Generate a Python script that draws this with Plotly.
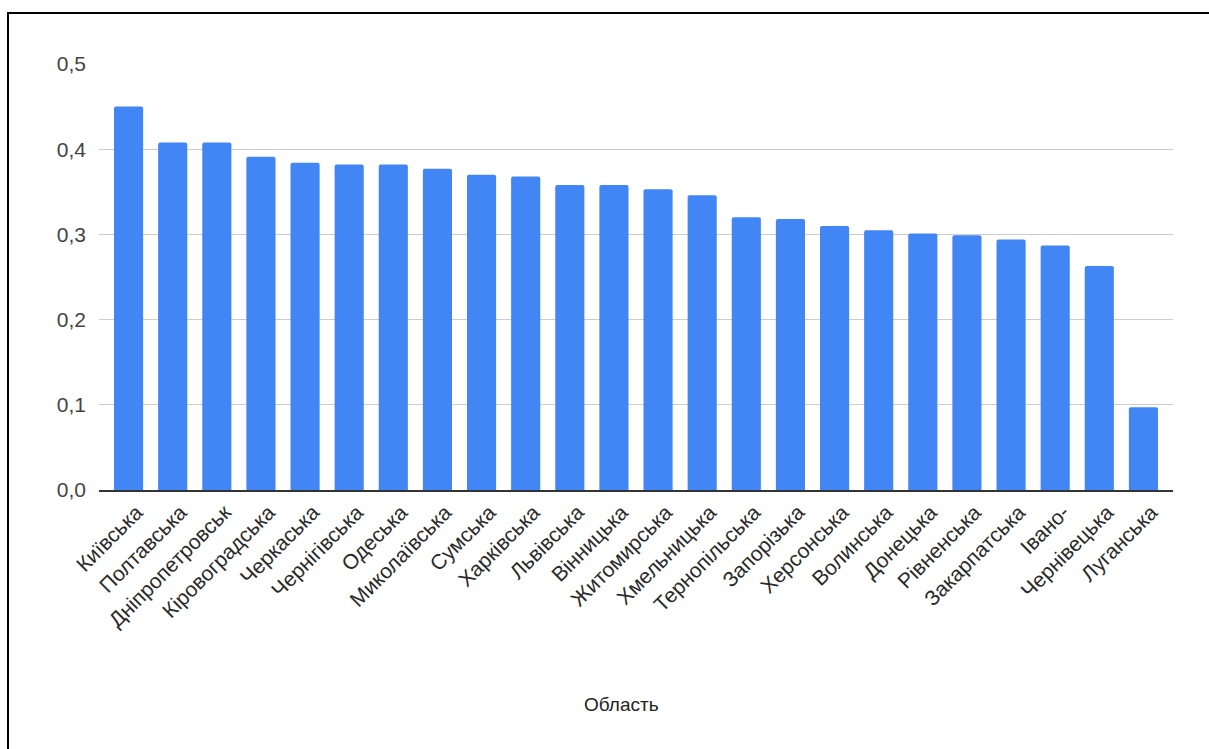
import plotly.graph_objects as go

# Regions (oblasts) and their values
regions = [
    "Київська", "Полтавська", "Дніпропетровськ", "Кіровоградська", "Черкаська",
    "Чернігівська", "Одеська", "Миколаївська", "Сумська", "Харківська",
    "Львівська", "Вінницька", "Житомирська", "Хмельницька", "Тернопільська",
    "Запорізька", "Херсонська", "Волинська", "Донецька", "Рівненська",
    "Закарпатська", "Івано-", "Чернівецька", "Луганська",
]
values = [
    0.450, 0.408, 0.408, 0.391, 0.384,
    0.382, 0.382, 0.377, 0.370, 0.368,
    0.358, 0.358, 0.353, 0.346, 0.320,
    0.318, 0.310, 0.305, 0.301, 0.299,
    0.294, 0.287, 0.263, 0.097,
]
y_ticks = [0.0, 0.1, 0.2, 0.3, 0.4, 0.5]
x_title = "Область"

W, H = 1209, 749
L, R, T, B = 99, 36, 64, 259
pw, ph = W - L - R, H - T - B

def px_x(p):
    return (p - L) / pw

def px_y(p):
    return (H - B - p) / ph

fig = go.Figure(
    go.Bar(
        x=regions,
        y=values,
        marker=dict(color="#4285F4", cornerradius=2, line=dict(width=0)),
        hoverinfo="x+y",
    )
)

fig.update_layout(
    width=W,
    height=H,
    margin=dict(l=L, r=R, t=T, b=B, autoexpand=False),
    paper_bgcolor="white",
    plot_bgcolor="white",
    separators=", ",
    bargap=0.34,
    showlegend=False,
    font=dict(family="Arial, Liberation Sans, sans-serif", color="#222222"),
    shapes=[
        # frame: top and left edges
        dict(type="line", xref="paper", yref="paper",
             x0=px_x(7), x1=px_x(1220), y0=px_y(13), y1=px_y(13),
             line=dict(color="black", width=2)),
        dict(type="line", xref="paper", yref="paper",
             x0=px_x(8), x1=px_x(8), y0=px_y(12), y1=px_y(760),
             line=dict(color="black", width=2)),
    ],
    annotations=[
        dict(text=x_title, xref="paper", yref="paper",
             x=px_x(621), y=px_y(705), xanchor="center", yanchor="middle",
             showarrow=False, font=dict(size=19, color="#222222")),
    ],
)

fig.update_xaxes(
    type="category",
    range=[-0.67, 23.67],
    tickangle=-45,
    tickfont=dict(size=21, color="#2a2a2a"),
    showgrid=False,
    showline=True,
    linecolor="#333333",
    linewidth=1.5,
    ticks="",
    ticklabelshift=8,
    automargin=False,
)

fig.update_yaxes(
    range=[0, 0.5],
    tickvals=y_ticks,
    tickformat=".1f",
    tickfont=dict(size=21, color="#444444"),
    showgrid=True,
    gridcolor="#cccccc",
    gridwidth=1,
    zeroline=False,
    showline=False,
    ticks="",
    ticklabelstandoff=12,
    automargin=False,
)

fig.write_html("out.html")
